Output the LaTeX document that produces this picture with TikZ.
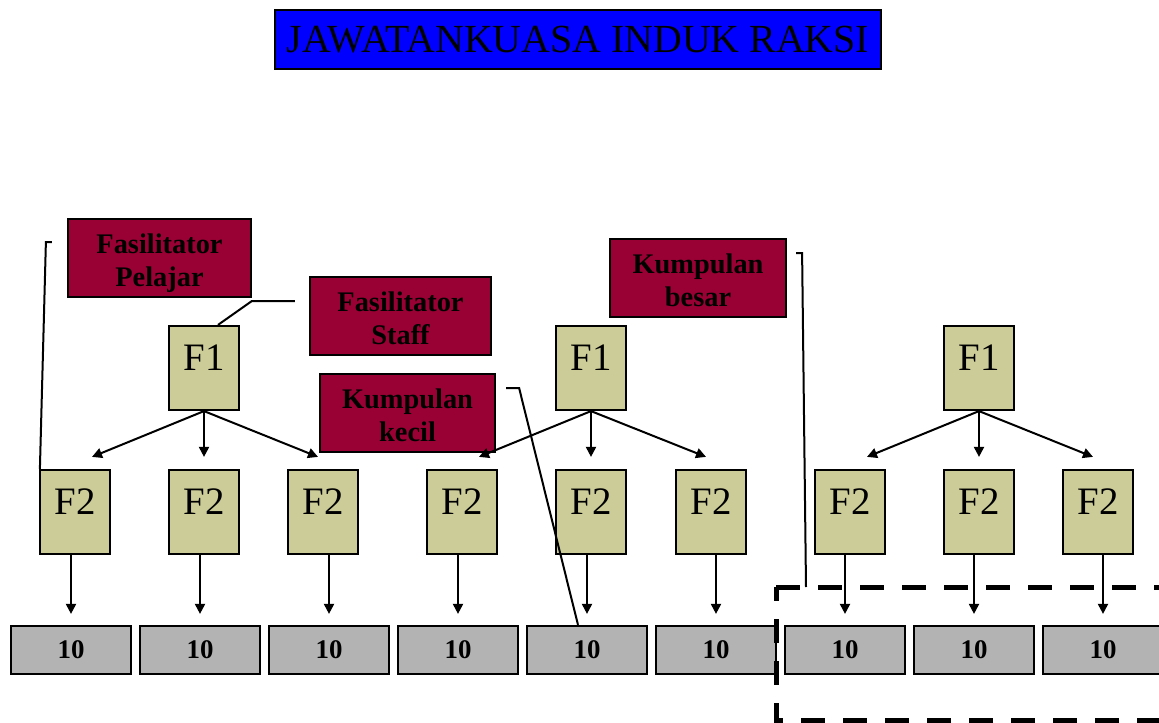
\documentclass[tikz,border=0pt]{standalone}
\usepackage{fontspec}
\setmainfont{Liberation Serif}
\usetikzlibrary{arrows.meta}
\definecolor{tajukbiru}{RGB}{0,0,255}
\definecolor{marun}{RGB}{153,0,51}
\definecolor{khaki}{RGB}{204,204,153}
\definecolor{kelabu}{RGB}{179,179,179}

\begin{document}
\begin{tikzpicture}[x=1bp,y={(0,-1bp)},
    kotak/.style={draw,line width=2.2bp,inner sep=0pt},
    tajukbox/.style={kotak,fill=tajukbiru,minimum width=606bp,minimum height=59bp,font=\fontsize{40}{42}\selectfont},
    labelbox/.style={kotak,fill=marun,minimum height=78bp,align=center,font=\fontsize{28.5}{32.5}\selectfont\bfseries,text height=67bp,text depth=11bp},
    fasbox/.style={kotak,fill=khaki,minimum width=70bp,minimum height=84bp,font=\fontsize{39}{40}\selectfont,text height=27bp,text depth=23bp},
    tenbox/.style={kotak,fill=kelabu,minimum width=120bp,minimum height=48bp,font=\fontsize{27}{28}\selectfont\bfseries},
    arr/.style={line width=2bp,-{Triangle[length=10bp,width=10bp]}},
    lead/.style={line width=2bp}]
            \clip (0,0) rectangle (1159,723);
            \node[tajukbox] (tajuk) at (578,39.5) {JAWATANKUASA INDUK RAKSI};
            \node[labelbox,minimum width=183bp] (pelajar) at (159.5,258) {Fasilitator\\Pelajar};
            \node[labelbox,minimum width=181bp] (staff) at (400.5,316) {Fasilitator\\Staff};
            \node[labelbox,minimum width=175bp] (kecil) at (407.5,413) {Kumpulan\\kecil};
            \node[labelbox,minimum width=176bp] (besar) at (698,278) {Kumpulan\\besar};
            \foreach \g/\x in {1/204,2/591,3/979}
                \node[fasbox] (f1-\g) at (\x,368) {F1};
            \foreach \i/\x in {1/75,2/204,3/323,4/462,5/591,6/711,7/850,8/979,9/1098}
                \node[fasbox] (f2-\i) at (\x,512) {F2};
            \foreach \i in {1,...,9}
                \node[tenbox] (ten-\i) at ({71+129*(\i-1)},650) {10};
            \foreach \g/\a/\b/\c in {1/1/2/3,2/4/5/6,3/7/8/9} {
                \draw[arr] (f1-\g.south) -- ([shift={(17,-12)}]f2-\a.north);
                \draw[arr] (f1-\g.south) -- ([shift={(0,-12)}]f2-\b.north);
                \draw[arr] (f1-\g.south) -- ([shift={(-5,-12)}]f2-\c.north);
            }
            \foreach \i in {1,...,9}
                \draw[arr] (ten-\i.north |- f2-\i.south) -- ([yshift=11bp]ten-\i.north);
            \coordinate (zone) at (776,587);
            \draw[line width=5bp,dash pattern=on 24bp off 18bp] (zone) -- ++(420,0) -- ++(0,133) -- ++(-420,0) -- cycle;
            \draw[lead] ([shift={(-15,-16)}]pelajar.west) -- ++(-6,0) -- ([xshift=1bp]f2-1.north west);
            \draw[lead] ([shift={(-14,-15)}]staff.west) -- ++(-43,0) -- ([xshift=14bp]f1-1.north);
            \draw[lead] ([shift={(10,-25)}]kecil.east) -- ++(13,0) -- ([xshift=-9bp]ten-5.north);
            \draw[lead] ([shift={(9,-25)}]besar.east) -- ++(6,0) -- ([xshift=30bp]zone);
        \end{tikzpicture}
\end{document}
